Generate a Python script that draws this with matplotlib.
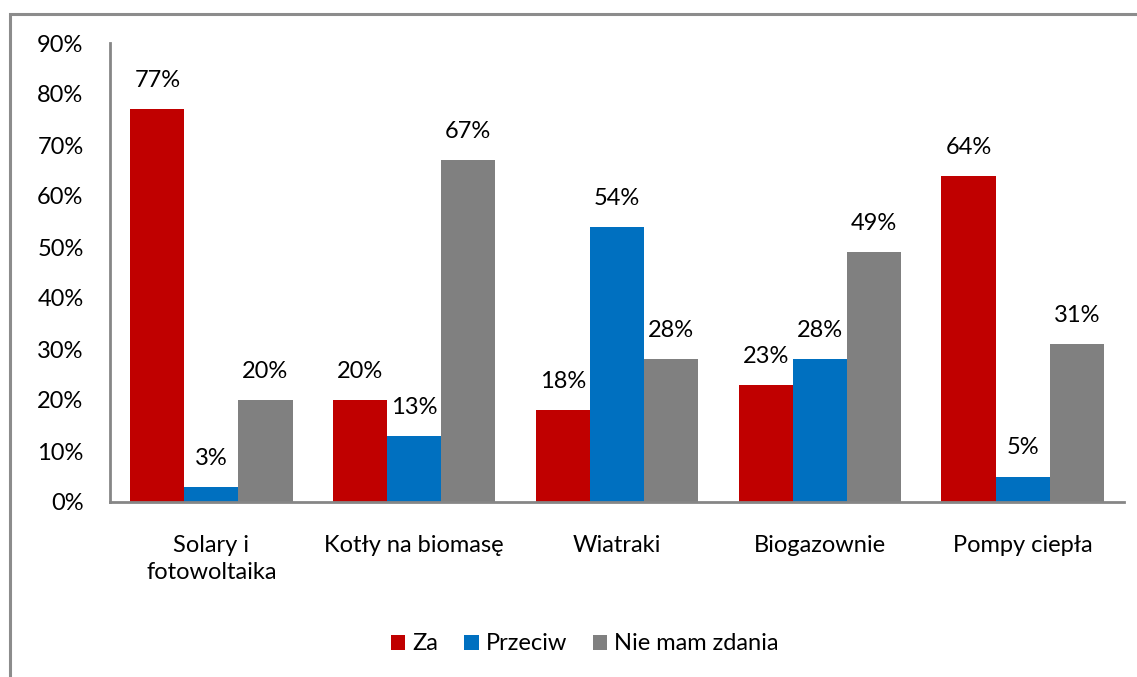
import matplotlib
matplotlib.use("Agg")
import matplotlib.pyplot as plt
import numpy as np
from matplotlib.patches import Rectangle

plt.rcParams['font.family'] = ['Lato', 'DejaVu Sans']

categories = ["Solary i\nfotowoltaika", "Kotły na biomasę", "Wiatraki", "Biogazownie", "Pompy ciepła"]
za = [77, 20, 18, 23, 64]
przeciw = [3, 13, 54, 28, 5]
nie_mam_zdania = [20, 67, 28, 49, 31]
series_names = ["Za", "Przeciw", "Nie mam zdania"]
colors = ["#C00000", "#0070C0", "#808080"]
yticks = [0, 10, 20, 30, 40, 50, 60, 70, 80, 90]

W, H = 1137, 677
FS = 17
fig = plt.figure(figsize=(W / 100, H / 100), dpi=100)

# outer frame (open on the right and bottom)
fig.add_artist(Rectangle((10 / W, -0.1), 1.2, (H - 14) / H + 0.1,
                         transform=fig.transFigure, fill=False,
                         edgecolor="#8c8c8c", linewidth=2.2))

ax = fig.add_axes([110 / W, 175 / H, (1124 - 110) / W, (634 - 175) / H])

x = np.arange(len(categories))
bw = 0.8 / 3
for i, (vals, name, col) in enumerate(zip([za, przeciw, nie_mam_zdania], series_names, colors)):
    pos = x + (i - 1) * bw
    ax.bar(pos, vals, width=bw, color=col, label=name)
    for xp, v in zip(pos, vals):
        ax.annotate(f"{v}%", (xp, v), xytext=(0, 13), textcoords="offset points",
                    ha="center", va="bottom", fontsize=FS, color="#000000")

ax.set_xlim(-0.5, len(categories) - 0.5)
ax.set_ylim(0, 90)
ax.set_yticks(yticks)
ax.set_yticklabels([f"{t}%" for t in yticks], fontsize=FS)
ax.set_xticks(x)
ax.set_xticklabels(categories, fontsize=FS, linespacing=1.35)
ax.tick_params(axis="both", length=0)
ax.tick_params(axis="y", pad=19)
ax.tick_params(axis="x", pad=24)
for s in ["top", "right"]:
    ax.spines[s].set_visible(False)
for s in ["left", "bottom"]:
    ax.spines[s].set_color("#868686")
    ax.spines[s].set_linewidth(2)

fig.legend(loc="center", bbox_to_anchor=(585 / W, 1 - 644 / H), ncol=3, frameon=False,
           fontsize=FS, handlelength=0.6, handleheight=0.6, handletextpad=0.3,
           columnspacing=1.1)

fig.savefig("out.png", dpi=100)
